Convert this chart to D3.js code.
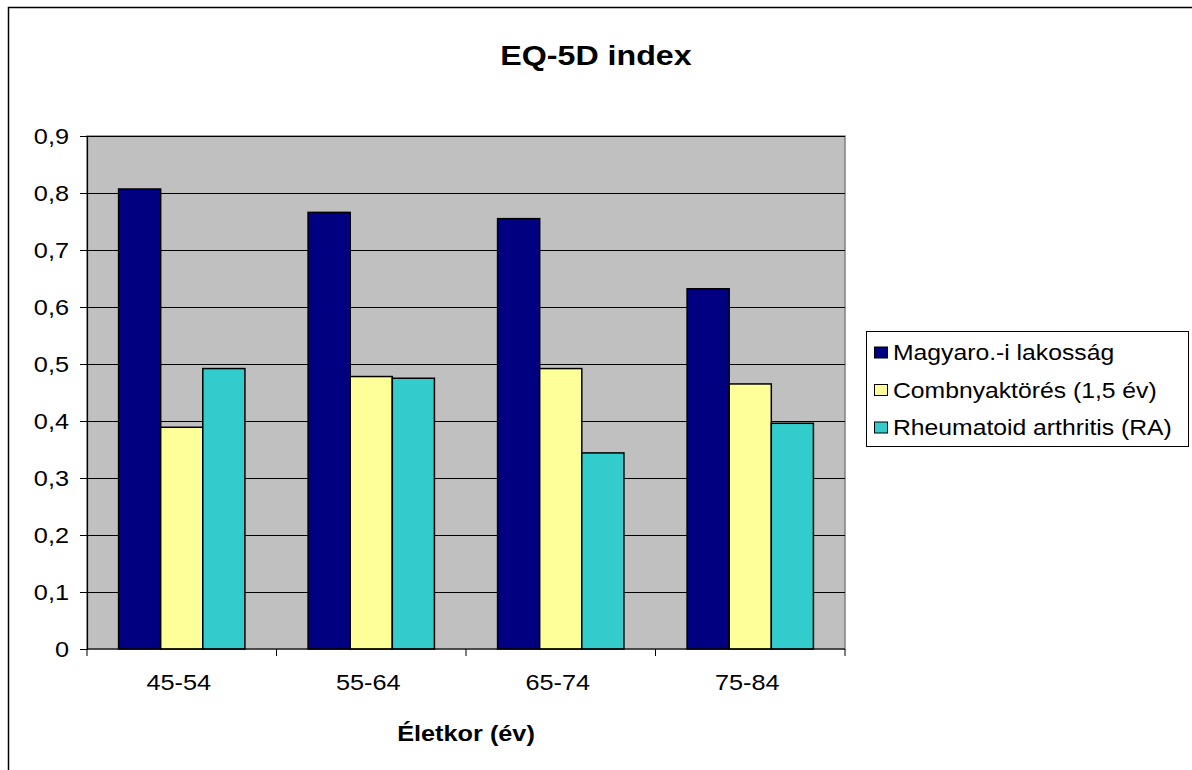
<!DOCTYPE html>
<html>
<head>
<meta charset="utf-8">
<script src="https://cdn.jsdelivr.net/npm/d3@7"></script>
<style>
  html, body { margin: 0; padding: 0; background: #fff; }
  svg { display: block; font-family: "Liberation Sans", Arial, sans-serif; }
</style>
</head>
<body>
<svg id="chart" width="1192" height="770"></svg>
<script>
// EQ-5D index by age group
const categories = ["45-54", "55-64", "65-74", "75-84"];
const seriesNames = ["Magyaro.-i lakosság", "Combnyaktörés (1,5 év)", "Rheumatoid arthritis (RA)"];
const hungarianPopulation = [0.807, 0.766, 0.755, 0.632];
const hipFracture = [0.389, 0.478, 0.492, 0.465];
const rheumatoidArthritis = [0.492, 0.475, 0.344, 0.396];
const yTicks = [0, 0.1, 0.2, 0.3, 0.4, 0.5, 0.6, 0.7, 0.8, 0.9];
const seriesColors = ["#000080", "#FFFF99", "#33CCCC"];

const seriesValues = [hungarianPopulation, hipFracture, rheumatoidArthritis];

// text is drawn slightly widened, as in the original sheet export
const SX = 1.15;
const FONT = "Liberation Sans, Arial, sans-serif";

const svg = d3.select("#chart");

// outer chart frame
svg.append("rect")
  .attr("x", 8.5).attr("y", 7.5)
  .attr("width", 1200).attr("height", 800)
  .attr("fill", "#fff").attr("stroke", "#000").attr("stroke-width", 1.5);

const plot = { left: 87, right: 845, top: 136, bottom: 649 };

const x0 = d3.scaleBand().domain(categories).range([plot.left, plot.right]).paddingInner(0).paddingOuter(0);
// gap width of 150%: three bars take 3/4.5 of each band
const x1 = d3.scaleBand().domain(d3.range(seriesNames.length))
  .range([0, x0.bandwidth()]).paddingInner(0).paddingOuter(0.75);
const y = d3.scaleLinear().domain([0, 0.9]).range([plot.bottom, plot.top]);

// plot background
svg.append("rect")
  .attr("x", plot.left).attr("y", plot.top)
  .attr("width", plot.right - plot.left).attr("height", plot.bottom - plot.top)
  .attr("fill", "#C0C0C0").attr("stroke", "#808080").attr("stroke-width", 1.5);

// gridlines
svg.append("g").selectAll("line")
  .data(yTicks.filter(t => t > 0))
  .join("line")
  .attr("x1", plot.left).attr("x2", plot.right)
  .attr("y1", d => Math.round(y(d)) + 0.5).attr("y2", d => Math.round(y(d)) + 0.5)
  .attr("stroke", "#000").attr("stroke-width", 1.2);

// bars
const groups = svg.append("g").selectAll("g")
  .data(categories)
  .join("g")
  .attr("transform", d => `translate(${x0(d)},0)`);

groups.selectAll("rect")
  .data((c, ci) => seriesValues.map((vals, si) => ({ si, v: vals[ci] })))
  .join("rect")
  .attr("x", d => x1(d.si))
  .attr("width", x1.bandwidth())
  .attr("y", d => y(d.v))
  .attr("height", d => y(0) - y(d.v))
  .attr("fill", d => seriesColors[d.si])
  .attr("stroke", "#000").attr("stroke-width", 1.5);

// y axis
const yAxis = d3.axisLeft(y)
  .tickValues(yTicks)
  .tickSize(7)
  .tickPadding(12)
  .tickFormat(d => d === 0 ? "0" : d3.format(".1f")(d).replace(".", ","));
const yg = svg.append("g").attr("transform", `translate(${plot.left},0)`).call(yAxis);
yg.select(".domain").attr("stroke", "#000").attr("stroke-width", 1.2);
yg.selectAll(".tick line").attr("stroke", "#000");
yg.selectAll("text")
  .attr("font-size", 22).attr("fill", "#000").attr("font-family", FONT)
  .attr("x", -18 / SX)
  .attr("transform", `scale(${SX},1)`);

// x axis
const xAxis = d3.axisBottom(x0).tickSize(0).tickPadding(25);
const xg = svg.append("g").attr("transform", `translate(-3,${plot.bottom})`).call(xAxis);
xg.select(".domain").remove();
xg.selectAll("text")
  .attr("font-size", 22).attr("fill", "#000").attr("font-family", FONT)
  .attr("transform", `scale(${SX},1)`);
// axis line and category separator ticks
const xBase = svg.append("g").attr("transform", `translate(0,${plot.bottom})`);
xBase.append("line")
  .attr("x1", plot.left).attr("x2", plot.right)
  .attr("stroke", "#000").attr("stroke-width", 1.2);
const sepX = categories.map(c => x0(c)).concat([plot.right]);
xBase.selectAll(".sep").data(sepX).join("line")
  .attr("class", "sep")
  .attr("x1", d => d).attr("x2", d => d)
  .attr("y1", 0).attr("y2", 7)
  .attr("stroke", "#000");

// title
svg.append("text")
  .attr("transform", `translate(596,65) scale(${SX},1)`)
  .attr("text-anchor", "middle")
  .attr("font-size", 28).attr("font-weight", "bold")
  .text("EQ-5D index");

// x axis title
svg.append("text")
  .attr("transform", `translate(466,741) scale(${SX},1)`)
  .attr("text-anchor", "middle")
  .attr("font-size", 22).attr("font-weight", "bold")
  .text("Életkor (év)");

// legend
const legend = svg.append("g");
legend.append("rect")
  .attr("x", 866.5).attr("y", 331.5)
  .attr("width", 322).attr("height", 115)
  .attr("fill", "#fff").attr("stroke", "#000").attr("stroke-width", 1);

const rows = legend.selectAll("g.row")
  .data(seriesNames)
  .join("g")
  .attr("class", "row")
  .attr("transform", (d, i) => `translate(874,${352.5 + i * 37.5})`);
rows.append("rect")
  .attr("x", 0.5).attr("y", -5.5)
  .attr("width", 13).attr("height", 11)
  .attr("fill", (d, i) => seriesColors[i])
  .attr("stroke", "#000").attr("stroke-width", 1);
rows.append("text")
  .attr("transform", `translate(19,0) scale(${SX},1)`)
  .attr("dy", "0.36em")
  .attr("font-size", 21.5)
  .text(d => d);
</script>
</body>
</html>
